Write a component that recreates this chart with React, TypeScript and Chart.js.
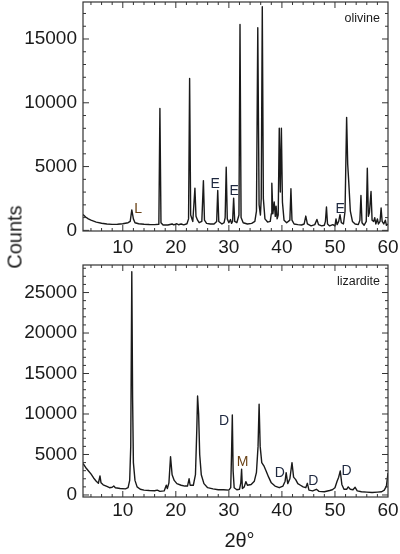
import React, { useEffect, useRef } from "react";
import { Chart, registerables } from "chart.js";

Chart.register(...registerables);

const FONT = "'Liberation Sans', Arial, Helvetica, sans-serif";
const INK = "#1a1a1a";
const NAVY = "#1f2940";
const BROWN = "#6a4216";

// axis ticks
const xMajorTicks = [10, 20, 30, 40, 50, 60];
const olivineYTicks = [0, 5000, 10000, 15000];
const lizarditeYTicks = [0, 5000, 10000, 15000, 20000, 25000];
const xMinorStep = 2;
const yMinorStep = 1000;

// olivine diffraction pattern [2theta, counts]
const olivinePattern: [number, number][] = [
  [2.5, 1250], [3, 1050], [3.5, 900], [4, 800], [5, 650], [6, 560], [7, 500], [8, 470], [9, 480],
  [10, 520], [10.5, 560], [11, 600], [11.4, 700], [11.7, 1600], [12.0, 900], [12.3, 600], [13, 520],
  [14, 480], [15, 460], [16, 450], [16.8, 480], [17.0, 9560], [17.2, 600], [17.6, 420], [18.5, 420],
  [19.3, 500], [19.6, 430], [20.2, 520], [20.5, 440], [21, 500], [21.5, 430], [22.1, 520], [22.4, 900],
  [22.6, 11900], [22.8, 1200], [23.2, 700], [23.6, 3310], [23.8, 1100], [24.1, 800], [24.4, 600],
  [24.9, 700], [25.2, 3900], [25.4, 800], [25.8, 550], [26.5, 500], [27.2, 500], [27.7, 700],
  [27.9, 3120], [28.1, 700], [28.7, 500], [29.1, 600], [29.3, 1000], [29.5, 4950], [29.7, 900],
  [30.0, 600], [30.3, 850], [30.5, 550], [30.7, 700], [30.9, 2530], [31.1, 700], [31.5, 600],
  [31.9, 1200], [32.1, 16140], [32.3, 1000], [32.7, 600], [33.5, 500], [34.3, 550], [34.9, 700],
  [35.2, 1500], [35.45, 15890], [35.7, 2000], [35.95, 1200], [36.1, 2500], [36.3, 17530], [36.5, 2500],
  [36.8, 900], [37.3, 650], [37.8, 700], [38.0, 1300], [38.1, 3700], [38.3, 1300], [38.55, 2220],
  [38.75, 1100], [38.9, 1900], [39.1, 900], [39.3, 1200], [39.5, 8000], [39.7, 3000], [39.9, 8000],
  [40.1, 2200], [40.4, 800], [40.9, 600], [41.5, 800], [41.7, 3260], [41.9, 800], [42.3, 500],
  [43, 450], [43.7, 420], [44.2, 500], [44.5, 1120], [44.8, 500], [45.5, 350], [46.2, 450],
  [46.6, 860], [46.9, 450], [47.5, 350], [48.0, 400], [48.2, 700], [48.4, 1830], [48.6, 500],
  [49, 350], [49.6, 450], [50.0, 350], [50.2, 900], [50.4, 450], [50.7, 700], [50.95, 1230],
  [51.2, 600], [51.6, 500], [51.9, 1500], [52.2, 8860], [52.4, 5200], [52.6, 3800], [52.9, 1500],
  [53.3, 700], [53.8, 500], [54.4, 450], [54.7, 800], [54.9, 2730], [55.1, 600], [55.5, 400],
  [55.9, 700], [56.1, 4870], [56.3, 1100], [56.5, 1400], [56.8, 3050], [57.0, 800], [57.3, 700],
  [57.5, 1000], [57.7, 500], [58.0, 900], [58.2, 500], [58.5, 700], [58.7, 1750], [58.9, 700],
  [59.2, 500], [59.5, 800], [59.7, 400], [60, 500],
];

// lizardite diffraction pattern [2theta, counts]
const lizarditePattern: [number, number][] = [
  [2.5, 3900], [3, 3400], [3.5, 3000], [4, 2600], [4.5, 2100], [5, 1700], [5.4, 1450], [5.7, 2350],
  [5.9, 1500], [6.3, 1250], [7, 1050], [7.5, 900], [8.0, 950], [8.3, 1100], [8.6, 900], [9.5, 800],
  [10.5, 750], [11.0, 900], [11.3, 1800], [11.5, 6000], [11.7, 27580], [11.85, 12000], [12.0, 4000],
  [12.3, 1800], [12.7, 1000], [13.3, 700], [14, 600], [15, 550], [16, 520], [16.5, 600], [17, 450],
  [17.8, 500], [18.2, 1200], [18.4, 800], [18.7, 1500], [19.0, 4730], [19.3, 2500], [19.7, 1800],
  [20.2, 1400], [21, 1200], [21.7, 1100], [22.2, 1100], [22.5, 2000], [22.7, 1200], [23.3, 1200],
  [23.7, 2500], [23.95, 8000], [24.1, 12230], [24.3, 10000], [24.5, 5000], [24.8, 2500], [25.3, 1400],
  [26, 900], [27, 750], [28, 650], [29, 650], [30, 600], [30.35, 900], [30.5, 5000], [30.65, 9880],
  [30.8, 3000], [31.0, 900], [31.5, 650], [32.0, 700], [32.25, 1500], [32.4, 3170], [32.55, 800],
  [32.9, 1000], [33.2, 1650], [33.5, 1200], [34.2, 1300], [34.8, 1700], [35.2, 2800], [35.5, 6000],
  [35.7, 11200], [35.9, 6000], [36.2, 4000], [36.6, 3600], [37, 3000], [37.5, 2200], [38, 1500],
  [38.7, 1100], [39.5, 900], [40.2, 1100], [40.6, 1700], [40.8, 2760], [41.1, 1400], [41.5, 2000],
  [41.9, 3990], [42.2, 2200], [42.6, 1900], [43, 1400], [43.5, 1200], [44, 1000], [44.5, 900],
  [44.8, 1440], [45.1, 600], [45.8, 500], [46.5, 700], [47, 450], [48, 400], [49, 550], [49.5, 650],
  [50, 900], [50.4, 1700], [50.7, 2200], [51.0, 2960], [51.3, 1300], [51.7, 700], [52.2, 700],
  [52.5, 1000], [52.9, 700], [53.4, 650], [53.8, 950], [54.2, 500], [55, 400], [56, 350], [57, 300],
  [58, 350], [58.8, 400], [59.3, 600], [59.7, 1100], [60, 2700],
];

type Mark = { text: string; x: number; y: number; color: string };

const olivineMarks: Mark[] = [
  { text: "L", x: 12.9, y: 1700, color: BROWN },
  { text: "E", x: 27.4, y: 3650, color: NAVY },
  { text: "E", x: 31.0, y: 3050, color: NAVY },
  { text: "E", x: 51.0, y: 1700, color: NAVY },
];

const lizarditeMarks: Mark[] = [
  { text: "D", x: 29.1, y: 9140, color: NAVY },
  { text: "M", x: 32.6, y: 4110, color: BROWN },
  { text: "D", x: 39.6, y: 2680, color: NAVY },
  { text: "D", x: 45.9, y: 1770, color: NAVY },
  { text: "D", x: 52.2, y: 3000, color: NAVY },
];

type PanelCfg = {
  pattern: [number, number][];
  marks: Mark[];
  name: string;
  yTicks: number[];
  yMin: number;
  yMax: number;
  padTop: number;
  xAxisHeight: number;
  xLabelPad: number;
  xTitle?: string;
};

function makePanel(canvas: HTMLCanvasElement, cfg: PanelCfg) {
  const decor = {
    id: "decor",
    afterDraw(chart: any) {
      const ctx = chart.ctx as CanvasRenderingContext2D;
      const { left, right, top, bottom } = chart.chartArea;
      const xs = chart.scales.x;
      const ys = chart.scales.y;
      ctx.save();
      ctx.strokeStyle = "#333";
      ctx.lineWidth = 1.2;
      ctx.strokeRect(left, top, right - left, bottom - top);
      ctx.lineWidth = 1;
      ctx.beginPath();
      const major = 6;
      const minor = 3;
      for (let v = 4; v < 60; v += xMinorStep) {
        const isMajor = xMajorTicks.includes(v);
        const len = isMajor ? major : minor;
        const px = xs.getPixelForValue(v);
        ctx.moveTo(px, bottom);
        ctx.lineTo(px, bottom - len);
        ctx.moveTo(px, top);
        ctx.lineTo(px, top + len);
      }
      for (let v = 0; v <= cfg.yMax; v += yMinorStep) {
        const isMajor = cfg.yTicks.includes(v);
        const len = isMajor ? major : minor;
        const py = ys.getPixelForValue(v);
        if (py < top + 1) continue;
        ctx.moveTo(left, py);
        ctx.lineTo(left + len, py);
        ctx.moveTo(right, py);
        ctx.lineTo(right - len, py);
      }
      ctx.stroke();

      ctx.textAlign = "center";
      ctx.textBaseline = "middle";
      ctx.font = `14px ${FONT}`;
      for (const m of cfg.marks) {
        ctx.fillStyle = m.color;
        ctx.fillText(m.text, xs.getPixelForValue(m.x), ys.getPixelForValue(m.y));
      }
      ctx.fillStyle = INK;
      ctx.font = `12.5px ${FONT}`;
      ctx.textAlign = "right";
      ctx.fillText(cfg.name, right - 8, top + 17);

      if (cfg.xTitle) {
        ctx.font = `20px ${FONT}`;
        ctx.textAlign = "center";
        ctx.fillText(cfg.xTitle, (left + right) / 2 + 4, chart.height - 13);
      }
      ctx.restore();
    },
  };

  return new Chart(canvas, {
    type: "line",
    data: {
      datasets: [
        {
          data: cfg.pattern.map(([x, y]) => ({ x, y })),
          borderColor: INK,
          borderWidth: 1.4,
          pointRadius: 0,
          tension: 0,
          borderJoinStyle: "round",
          fill: false,
        },
      ],
    },
    options: {
      animation: false,
      responsive: false,
      maintainAspectRatio: false,
      layout: { padding: { top: cfg.padTop, right: 12, left: 0, bottom: 0 } },
      plugins: { legend: { display: false }, tooltip: { enabled: false } },
      scales: {
        x: {
          type: "linear",
          min: 2.5,
          max: 60,
          grid: { display: false, drawTicks: false },
          border: { display: false },
          ticks: {
            font: { family: FONT, size: 19 },
            color: INK,
            padding: cfg.xLabelPad,
            maxRotation: 0,
            autoSkip: false,
            callback: (v: any) => String(v),
          },
          afterBuildTicks: (s: any) => {
            s.ticks = xMajorTicks.map((value) => ({ value }));
          },
          afterFit: (s: any) => {
            s.height = cfg.xAxisHeight;
            s.paddingLeft = 0;
            s.paddingRight = 0;
          },
        },
        y: {
          type: "linear",
          min: cfg.yMin,
          max: cfg.yMax,
          grid: { display: false, drawTicks: false },
          border: { display: false },
          ticks: {
            font: { family: FONT, size: 19 },
            color: INK,
            padding: 6,
            callback: (v: any) => String(v),
          },
          afterBuildTicks: (s: any) => {
            s.ticks = cfg.yTicks.map((value) => ({ value }));
          },
          afterFit: (s: any) => {
            s.width = 83;
            s.paddingTop = 0;
            s.paddingBottom = 0;
          },
        },
      },
    } as any,
    plugins: [decor],
  });
}

export default function App() {
  const topRef = useRef<HTMLCanvasElement>(null);
  const botRef = useRef<HTMLCanvasElement>(null);

  useEffect(() => {
    const a = makePanel(topRef.current!, {
      pattern: olivinePattern,
      marks: olivineMarks,
      name: "olivine",
      yTicks: olivineYTicks,
      yMin: -50,
      yMax: 17900,
      padTop: 2,
      xAxisHeight: 31,
      xLabelPad: 5,
    });
    const b = makePanel(botRef.current!, {
      pattern: lizarditePattern,
      marks: lizarditeMarks,
      name: "lizardite",
      yTicks: lizarditeYTicks,
      yMin: -250,
      yMax: 28400,
      padTop: 3,
      xAxisHeight: 57,
      xLabelPad: 2,
      xTitle: "2θ°",
    });
    return () => {
      a.destroy();
      b.destroy();
    };
  }, []);

  return (
    <div style={{ position: "absolute", left: 0, top: 0, width: 400, height: 554, background: "#fff" }}>
      <canvas
        ref={topRef}
        width={400}
        height={262}
        style={{ position: "absolute", left: 0, top: 0, width: 400, height: 262 }}
      />
      <canvas
        ref={botRef}
        width={400}
        height={292}
        style={{ position: "absolute", left: 0, top: 262, width: 400, height: 292 }}
      />
      <div
        style={{
          position: "absolute",
          left: 15,
          top: 237,
          transform: "translate(-50%, -50%) rotate(-90deg)",
          fontFamily: FONT,
          fontSize: 20,
          color: INK,
          whiteSpace: "nowrap",
        }}
      >
        Counts
      </div>
    </div>
  );
}
